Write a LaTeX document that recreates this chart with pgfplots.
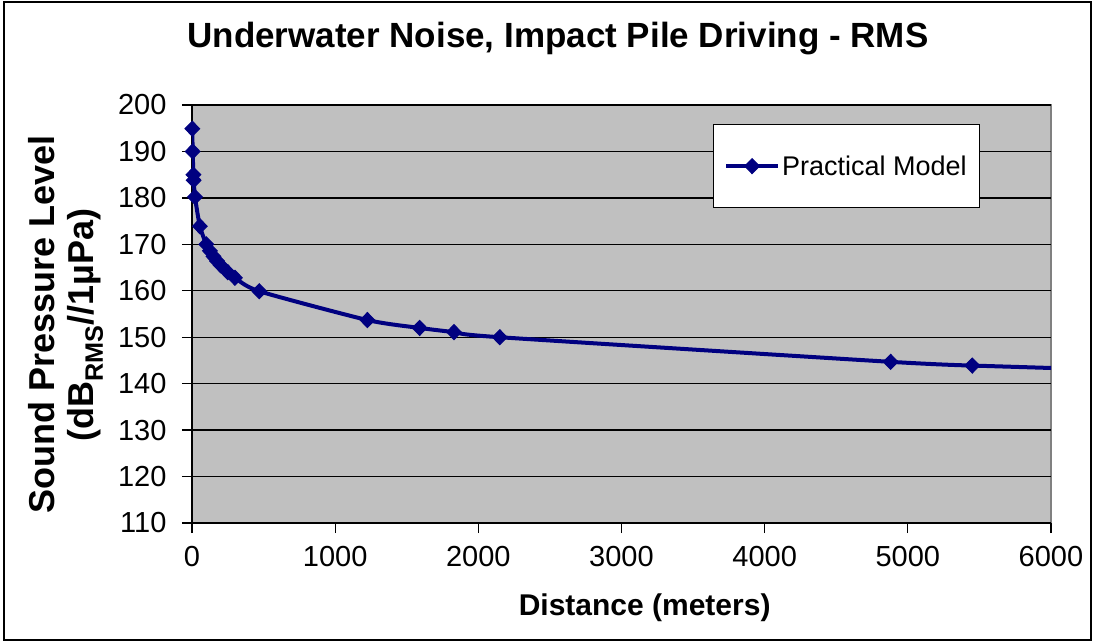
\documentclass[border=0pt]{standalone}
\usepackage{fontspec}
\setmainfont{Liberation Sans}
\usepackage{pgfplots}
\pgfplotsset{compat=1.18}
\definecolor{navy}{HTML}{000080}
\definecolor{plotgray}{HTML}{C0C0C0}
\definecolor{framegray}{HTML}{808080}
\begin{document}
\begin{tikzpicture}
\useasboundingbox (-192bp,-121bp) rectangle (904bp,523bp);
\draw[line width=1.5bp] (-188bp,-117bp) rectangle (899bp,521bp);
\begin{axis}[
  at={(0,0)}, anchor=south west,
  scale only axis, width=859bp, height=418bp,
  xmin=0, xmax=6000, ymin=110, ymax=200,
  xtick={0,1000,...,6000}, ytick={110,120,...,200},
  axis lines*=left,
  axis line style={line width=1.3bp, black},
  axis background/.style={fill=plotgray, draw=framegray, line width=1.3bp},
  ymajorgrids, grid style={black, line width=1.3bp},
  tick align=outside, major tick length=10bp,
  tick style={black, line width=1.3bp},
  ticklabel style={font=\fontsize{29bp}{31bp}\selectfont},
  /pgf/number format/assume math mode=true,
  /pgf/number format/1000 sep={},
  scaled x ticks=false,
  xticklabel style={yshift=-10bp},
  yticklabel style={xshift=-12bp},
  title={Underwater Noise, Impact Pile Driving - RMS},
  title style={font=\fontsize{35bp}{38bp}\selectfont\bfseries,
    at={(axis description cs:0.426,1)}, anchor=base, yshift=52bp},
  xlabel={Distance (meters)},
  xlabel style={font=\fontsize{30bp}{32bp}\selectfont\bfseries,
    at={(axis description cs:0.527,0)}, anchor=base, yshift=-92bp},
  ylabel={Sound Pressure Level\\(dB\textsubscript{RMS}//1µPa)},
  ylabel style={font=\fontsize{36bp}{39bp}\selectfont\bfseries, align=center,
    at={(axis description cs:-0.1467,0.474)}, anchor=center},
  legend style={at={(axis description cs:0.6065,0.9545)}, anchor=north west,
    draw=black, line width=1.2bp, fill=white,
    inner xsep=10.5bp, inner ysep=29bp,
    font=\fontsize{27bp}{29bp}\selectfont},
  legend cell align=left,
  legend image code/.code={\draw[mark repeat=2,mark phase=2,#1] plot coordinates {(0bp,0bp)(26bp,0bp)(52bp,0bp)};},
]
\addplot[navy, line width=4bp, smooth, tension=0.4, mark=diamond*,
  mark size=7.5bp, mark options={solid, xscale=1.3, line width=1bp}]
  coordinates {
  (2.2,194.9) (4.6,190.0) (10,185.0) (12,183.8) (21,180.2) (55,173.9)
  (100,170.0) (125,168.6) (150,167.4) (175,166.4) (200,165.5) (250,164.0)
  (300,162.8) (470,159.9) (1225,153.7) (1590,152.0) (1830,151.1)
  (2150,150.0) (4880,144.7) (5450,143.9)
  };
\addlegendentry{Practical Model}
\addplot[navy, line width=4bp, forget plot] coordinates {(5450,143.9) (6500,142.9)};
\end{axis}
\end{tikzpicture}
\end{document}
